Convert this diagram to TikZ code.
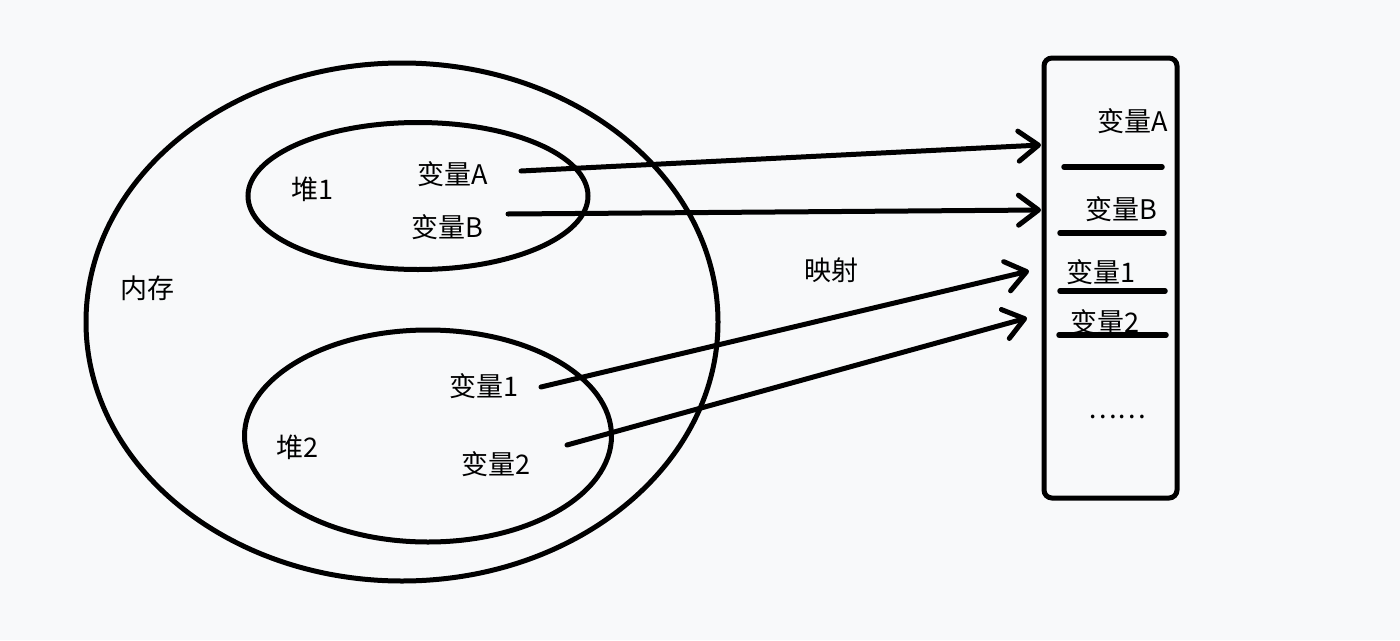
\documentclass[tikz,border=0pt]{standalone}
\usepackage{fontspec}
\setmainfont{Noto Sans CJK SC}
\usetikzlibrary{shapes.geometric,arrows.meta}
\definecolor{bgc}{RGB}{248,249,250}
\tikzset{
  lbl/.style={font=\fontsize{27}{32}\selectfont, inner sep=0pt},
  ring/.style={draw, ellipse, line width=5pt, inner sep=0pt},
  arr/.style={line width=5pt, line cap=round,
    -{Straight Barb[length=20pt,width=30pt,line cap=round,line join=round]}},
  slot/.style={line width=5.5pt, line cap=round}
}
\begin{document}
\begin{tikzpicture}[x=1pt,y=-1pt]
\useasboundingbox[fill=bgc] (0,0) rectangle (1400,640);
% ellipses
\node[ring, minimum width=632pt, minimum height=518pt] (outer) at (402,322) {};
\node[ring, minimum width=340pt, minimum height=147pt] (heap1) at (418,196) {};
\node[ring, minimum width=367pt, minimum height=212pt] (heap2) at (428,436) {};
% box
\node[draw, line width=5pt, rounded corners=8pt, minimum width=133pt, minimum height=440pt, inner sep=0pt] (mem) at (1110.5,278) {};
% labels
\node[lbl] (mem0) at (147,288) {内存};
\node[lbl] (h1) at (312,189) {堆1};
\node[lbl] (h2) at (297,447) {堆2};
\node[lbl] (vA) at (453,174) {变量A};
\node[lbl] (vB) at (447,227) {变量B};
\node[lbl] (v1) at (484,386) {变量1};
\node[lbl] (v2) at (496,464) {变量2};
\node[lbl] (map) at (831,270) {映射};
\node[lbl] (mA) at (1133,121) {变量A};
\node[lbl] (mB) at (1121,209) {变量B};
\node[lbl] (m1) at (1101,272) {变量1};
\node[lbl] (m2) at (1105,322) {变量2};
\node[lbl] (dots) at (1117,417) {……};
% slot lines
\coordinate (l1a) at (1064,167); \coordinate (l1b) at (1162,167);
\coordinate (l2a) at (1060,233); \coordinate (l2b) at (1164,233);
\coordinate (l3a) at (1060,291); \coordinate (l3b) at (1165,291);
\coordinate (l4a) at (1059,335); \coordinate (l4b) at (1166,335);
\draw[slot] (l1a) -- (l1b);
\draw[slot] (l2a) -- (l2b);
\draw[slot] (l3a) -- (l3b);
\draw[slot] (l4a) -- (l4b);
% arrow ends
\coordinate (tA) at (1041,145);
\coordinate (tB) at (1041,210);
\coordinate (t1) at (1029,271);
\coordinate (t2) at (1027,318);
\coordinate (sA) at (521,171);
\coordinate (sB) at (508,214);
\coordinate (s1) at (541,387);
\coordinate (s2) at (567,445);
\draw[arr] (sA) -- (tA);
\draw[arr] (sB) -- (tB);
\draw[arr] (s1) -- (t1);
\draw[arr] (s2) -- (t2);
\end{tikzpicture}
\end{document}
